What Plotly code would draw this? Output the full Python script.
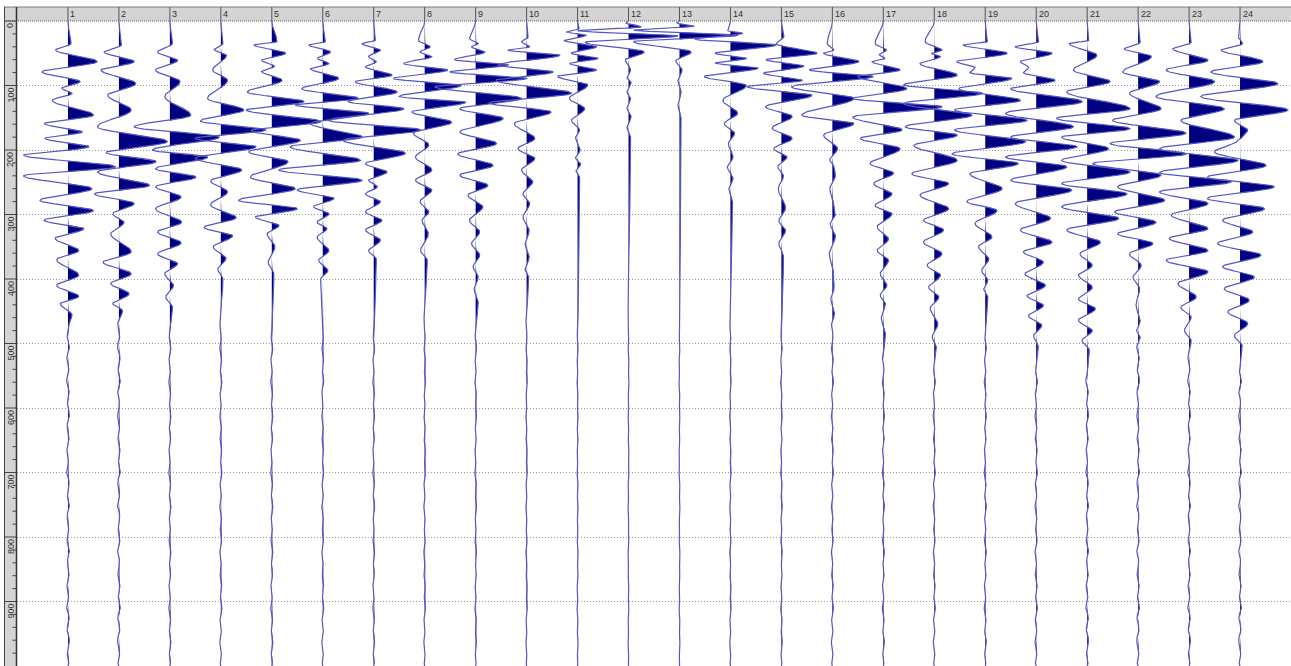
import numpy as np
import plotly.graph_objects as go

# ---------------- data ----------------
trace_numbers = list(range(1, 25))
time_ticks = [0, 100, 200, 300, 400, 500, 600, 700, 800, 900]
minor_ticks = [t for t in range(0, 1000, 20) if t % 100 != 0]

# extrema of each trace: (time ms, amplitude in trace spacings; + = right/filled)
tr01 = [(35, 0.06), (45, -0.24), (63, 0.57), (79, -0.51), (94, 0.24), (104, -0.12), (112, 0.08), (123, -0.31),
        (146, 0.5), (159, -0.46), (172, 0.28), (182, -0.45), (195, 0.41), (208, -0.87), (226, 0.93), (240, -0.87),
        (260, 0.47), (278, -0.55), (294, 0.5), (309, -0.47), (322, 0.31), (337, -0.25), (356, 0.21), (370, -0.22),
        (394, 0.21), (410, -0.22), (427, 0.21), (438, -0.15), (456, 0.08)]
tr02 = [(37, 0.05), (48, -0.29), (63, 0.3), (76, -0.35), (97, 0.33), (115, -0.22), (138, 0.24), (164, -0.42),
        (187, 0.95), (204, -0.25), (218, 0.73), (234, -0.42), (255, 0.6), (268, -0.48), (283, 0.3), (299, -0.12),
        (312, 0.1), (330, -0.16), (358, 0.24), (374, -0.31), (392, 0.24), (407, -0.16), (423, 0.2), (438, -0.12),
        (449, 0.07)]
tr03 = [(35, 0.05), (48, -0.24), (61, 0.15), (76, -0.28), (94, 0.2), (117, -0.1), (146, 0.41), (164, -0.7),
        (180, 0.97), (200, -0.34), (211, 0.74), (229, -0.28), (242, 0.51), (257, -0.28), (273, 0.22), (291, -0.28),
        (312, 0.23), (327, -0.24), (344, 0.22), (361, -0.24), (376, 0.15), (392, -0.1), (410, 0.07), (428, -0.08),
        (444, 0.05)]
tr04 = [(35, 0.04), (44, -0.13), (53, 0.11), (76, -0.16), (92, 0.13), (120, -0.26), (138, 0.45), (155, -0.4),
        (169, 0.88), (182, -0.5), (195, 0.69), (213, -0.5), (231, 0.41), (248, -0.2), (265, 0.13), (285, -0.2),
        (305, 0.3), (320, -0.33), (333, 0.23), (350, -0.15), (368, 0.1), (385, -0.06), (400, 0.04)]
tr05 = [(32, 0.1), (37, -0.35), (50, 0.27), (61, -0.2), (70, 0.05), (78, -0.2), (92, 0.2), (110, -0.48),
        (125, 0.63), (138, -0.5), (156, 0.96), (170, -0.4), (185, 0.56), (203, -0.45), (218, 0.32), (242, -0.42),
        (260, 0.46), (278, -0.65), (291, 0.5), (304, -0.32), (317, 0.14), (330, -0.09), (350, 0.06), (374, -0.07),
        (392, 0.04)]
tr06 = [(32, 0.05), (37, -0.27), (48, 0.15), (58, -0.1), (66, 0.12), (74, -0.24), (89, 0.31), (105, -0.41),
        (120, 0.7), (130, -0.54), (143, 0.9), (159, -0.24), (180, 0.77), (195, -0.64), (216, 0.74), (231, -0.86),
        (247, 0.77), (262, -0.5), (275, 0.22), (288, -0.18), (299, 0.12), (312, -0.11), (322, 0.08), (335, -0.11),
        (356, 0.12), (371, -0.08), (387, 0.1), (400, -0.04)]
tr07 = [(30, 0.03), (35, -0.23), (45, 0.13), (55, -0.1), (63, 0.05), (71, -0.16), (84, 0.36), (94, -0.36),
        (110, 0.46), (125, -0.5), (136, 0.59), (154, -0.88), (169, 0.92), (185, -0.6), (205, 0.62), (221, -0.16),
        (234, 0.26), (247, -0.1), (257, 0.07), (268, -0.16), (280, 0.13), (296, -0.16), (309, 0.16), (324, -0.16),
        (340, 0.13), (356, -0.1), (369, 0.05)]
tr08 = [(30, -0.12), (40, 0.11), (48, -0.09), (55, 0.14), (66, -0.41), (76, 0.45), (89, -0.61), (100, 0.71),
        (117, -0.5), (126, 0.8), (141, -0.25), (157, 0.53), (174, -0.22), (192, 0.08), (211, -0.18), (231, 0.14),
        (247, -0.18), (262, 0.14), (280, -0.09), (296, 0.08), (309, -0.05), (330, 0.07), (356, -0.08), (371, 0.05)]
tr09 = [(27, -0.12), (35, 0.05), (40, -0.08), (48, 0.18), (60, -0.41), (68, 0.64), (79, -0.5), (89, 1.0),
        (102, -0.8), (120, 0.9), (136, -0.31), (151, 0.54), (172, -0.31), (190, 0.41), (206, -0.35), (224, 0.34),
        (239, -0.31), (255, 0.24), (270, -0.15), (288, 0.14), (309, -0.12), (327, 0.08), (345, -0.08), (363, 0.08),
        (381, -0.05), (397, 0.05), (415, -0.03), (436, 0.05)]
tr10 = [(25, 0.03), (32, -0.1), (40, 0.06), (45, -0.37), (53, 0.65), (68, -0.56), (79, 0.52), (92, -0.6),
        (112, 0.88), (127, -0.73), (141, 0.48), (159, -0.24), (182, 0.16), (198, -0.17), (213, 0.16), (231, -0.1),
        (249, 0.12), (268, -0.07), (283, 0.06), (304, -0.07), (325, 0.05), (345, -0.03), (366, 0.05), (385, -0.03),
        (397, 0.04)]
tr11 = [(12, 0.03), (17, -0.22), (22, 0.17), (30, -0.26), (40, 0.37), (50, -0.12), (58, 0.4), (66, -0.15),
        (76, 0.37), (86, -0.39), (99, 0.2), (120, -0.16), (136, 0.14), (154, -0.12), (169, 0.04), (180, -0.04),
        (200, 0.05), (212, -0.04), (222, 0.06), (232, -0.03), (242, 0.04)]
tr12 = [(3, -0.05), (9, 0.25), (15, -1.0), (23, 0.97), (33, -0.85), (48, 0.31), (60, -0.06), (76, 0.04),
        (88, -0.03), (95, 0.05), (110, -0.03), (120, 0.04), (135, -0.03), (148, 0.05), (165, -0.03), (180, 0.04)]
tr13 = [(3, -0.05), (8, 0.29), (14, -0.9), (22, 1.15), (32, -0.9), (48, 0.23), (62, -0.07), (76, 0.05),
        (92, -0.03), (110, 0.03), (130, -0.03), (150, 0.03)]
tr14 = [(15, -0.05), (19, 0.24), (28, -0.7), (37, 0.9), (50, -0.3), (58, 0.31), (65, -0.3), (73, 0.54),
        (86, -0.51), (100, 0.31), (123, -0.15), (143, 0.14), (159, -0.12), (174, 0.08), (190, -0.04), (211, 0.05),
        (226, -0.06), (244, 0.05), (260, -0.03), (280, 0.04)]
tr15 = [(24, 0.05), (35, -0.1), (50, 0.7), (60, -0.3), (70, 0.44), (81, -0.35), (92, 0.41), (102, -0.67),
        (115, 0.6), (133, -0.31), (148, 0.21), (166, -0.18), (182, 0.21), (198, -0.15), (211, 0.11), (226, -0.07),
        (240, 0.04), (260, -0.06), (290, 0.08), (310, -0.05), (325, 0.08), (345, -0.05), (365, 0.04)]
tr16 = [(35, -0.1), (45, 0.03), (50, -0.17), (63, 0.52), (76, -0.45), (86, 0.8), (102, -0.8), (120, 0.42),
        (146, -0.6), (159, 0.42), (177, -0.17), (198, 0.1), (215, -0.05), (225, 0.03), (239, 0.06), (260, -0.05),
        (280, 0.02), (299, 0.06), (315, -0.04), (333, 0.06), (360, -0.06), (390, 0.02), (412, 0.04), (430, -0.03),
        (454, 0.04)]
tr17 = [(35, -0.16), (45, 0.06), (52, -0.08), (58, 0.03), (63, -0.22), (76, 0.33), (86, -0.5), (105, 0.46),
        (120, -0.6), (133, 1.15), (149, -0.6), (169, 0.37), (182, -0.45), (198, 0.33), (221, -0.26), (236, 0.2),
        (252, -0.19), (268, 0.17), (286, -0.16), (299, 0.17), (319, -0.12), (338, 0.1), (356, -0.12), (371, 0.1),
        (392, -0.06), (410, 0.07), (425, -0.06), (438, 0.04), (460, -0.04), (485, 0.04)]
tr18 = [(32, -0.18), (45, 0.15), (50, -0.05), (55, 0.12), (66, -0.28), (84, 0.45), (99, -0.6), (112, 0.94),
        (128, -0.6), (146, 0.74), (164, -0.57), (177, 0.45), (193, -0.4), (216, 0.45), (237, -0.44), (252, 0.28),
        (270, -0.28), (291, 0.28), (309, -0.21), (324, 0.18), (343, -0.21), (361, 0.15), (379, -0.14), (394, 0.12),
        (413, -0.11), (428, 0.09), (445, -0.08), (470, 0.07), (490, -0.04), (505, 0.04)]
tr19 = [(32, 0.04), (37, -0.43), (50, 0.43), (63, -0.56), (72, -0.2), (80, -0.3), (89, 0.52), (105, -0.52),
        (123, 0.69), (138, -0.6), (154, 0.82), (169, -0.6), (187, 0.79), (206, -0.65), (221, 0.65), (237, -0.3),
        (260, 0.33), (280, -0.36), (294, 0.23), (314, -0.2), (335, 0.13), (350, -0.13), (369, 0.07), (387, -0.07),
        (402, 0.05), (415, -0.03), (428, 0.05)]
tr20 = [(32, 0.05), (40, -0.41), (50, 0.31), (63, -0.31), (72, -0.15), (80, -0.25), (92, 0.37), (105, -0.5),
        (125, 0.9), (143, -0.6), (164, 0.73), (180, -0.5), (195, 0.8), (211, -0.6), (226, 0.6), (247, -0.5),
        (262, 0.7), (283, -0.41), (306, 0.28), (324, -0.31), (343, 0.31), (358, -0.25), (374, 0.14), (392, -0.22),
        (410, 0.18), (426, -0.18), (441, 0.14), (457, -0.15), (472, 0.11), (488, -0.05), (505, 0.04)]
tr21 = [(30, 0.03), (35, -0.35), (53, 0.19), (76, -0.27), (94, 0.45), (110, -0.4), (136, 0.84), (151, -0.6),
        (167, 0.84), (180, -0.5), (198, 0.42), (216, -0.5), (234, 0.84), (252, -0.5), (268, 0.78), (288, -0.5),
        (306, 0.62), (324, -0.4), (343, 0.26), (361, -0.14), (379, 0.1), (394, -0.17), (413, 0.1), (431, -0.17),
        (446, 0.16), (464, -0.17), (480, 0.1), (495, -0.1), (510, 0.04)]
tr22 = [(33, 0.04), (43, -0.27), (55, 0.26), (79, -0.3), (94, 0.42), (112, -0.17), (136, 0.45), (154, -0.5),
        (174, 0.94), (190, -0.55), (206, 0.94), (221, -0.89), (239, 0.45), (257, -0.4), (278, 0.52), (296, -0.46),
        (312, 0.35), (330, -0.4), (345, 0.29), (361, -0.17), (379, 0.06), (397, -0.1), (415, 0.03), (440, -0.04),
        (465, 0.04), (480, -0.03), (490, 0.04)]
tr23 = [(33, 0.04), (43, -0.32), (61, 0.37), (76, -0.45), (94, 0.5), (117, -0.65), (136, 0.69), (154, -0.16),
        (180, 0.89), (198, -0.58), (216, 0.96), (235, -0.58), (249, 0.83), (265, -0.58), (283, 0.37), (301, -0.35),
        (322, 0.37), (337, -0.39), (356, 0.37), (371, -0.45), (389, 0.37), (407, -0.22), (428, 0.14), (444, -0.16),
        (459, 0.04), (480, -0.09), (496, 0.04)]
tr24 = [(25, -0.03), (35, 0.05), (45, -0.37), (63, 0.45), (79, -0.57), (97, 0.74), (117, -0.77), (138, 0.94),
        (154, -0.11), (169, 0.15), (180, 0.05), (185, -0.05), (203, -0.5), (224, 0.51), (242, -0.64), (257, 0.67),
        (275, -0.64), (291, 0.48), (309, -0.34), (327, 0.25), (345, -0.44), (363, 0.41), (381, -0.34), (397, 0.28),
        (415, -0.31), (433, 0.18), (451, -0.24), (469, 0.15), (488, -0.11), (503, 0.04)]

# small late-time jitter common to all traces
tail_t = [470, 488, 505, 522, 540, 557, 575, 592, 610, 628, 645, 662, 680, 698, 715, 733, 750, 768, 785, 803,
          820, 838, 856, 873, 890, 908, 925, 943, 960, 978, 995]
tail_a = [0.04, -0.03, 0.05, -0.04, 0.03, -0.05, 0.04, -0.02, 0.05, -0.03, 0.04, -0.04, 0.02, -0.05, 0.04, -0.03,
          0.05, -0.03, 0.03, -0.04, 0.05, -0.02, 0.04, -0.04, 0.03, -0.05, 0.04, -0.03, 0.05, -0.03, 0.04]
tail_gain = [0.55, 0.55, 0.45, 0.45, 0.45, 0.4, 0.4, 0.35, 0.35, 0.3, 0.25, 0.2, 0.2, 0.3, 0.35, 0.45, 0.45,
             0.45, 0.45, 0.5, 0.55, 0.55, 0.55, 0.55]

all_traces = [tr01, tr02, tr03, tr04, tr05, tr06, tr07, tr08, tr09, tr10, tr11, tr12,
              tr13, tr14, tr15, tr16, tr17, tr18, tr19, tr20, tr21, tr22, tr23, tr24]

# ---------------- rendering helpers ----------------
T_MAX = 1000.0
t = np.arange(0.0, T_MAX + 0.5, 0.5)


def wiggle(events, gain, sign):
    pts = [(0.0, 0.0)] + [(float(a), float(b)) for a, b in events]
    last = pts[-1][0]
    pts += [(float(tt), aa * gain * sign) for tt, aa in zip(tail_t, tail_a) if tt > last + 12]
    pts += [(T_MAX, 0.0)]
    ts = np.array([p[0] for p in pts])
    av = np.array([p[1] for p in pts])
    idx = np.clip(np.searchsorted(ts, t, side="right") - 1, 0, len(ts) - 2)
    t0, t1 = ts[idx], ts[idx + 1]
    a0, a1 = av[idx], av[idx + 1]
    s = np.clip((t - t0) / (t1 - t0), 0, 1)
    return a0 + (a1 - a0) * (1 - np.cos(np.pi * s)) / 2


FILL = "#000080"
LINE = "#5656c6"

fig = go.Figure()
for k, (num, ev) in enumerate(zip(trace_numbers, all_traces)):
    a = wiggle(ev, tail_gain[k], 1 if k % 2 == 0 else -1)
    pos = num
    xf = pos + np.clip(a, 0, None)
    fig.add_trace(go.Scatter(
        x=np.concatenate([[pos], xf, [pos]]), y=np.concatenate([[0], t, [T_MAX]]),
        mode="lines", fill="toself", fillcolor=FILL, line=dict(width=0, color=FILL),
        hoverinfo="skip", showlegend=False))
    fig.add_trace(go.Scatter(
        x=pos + a, y=t, mode="lines", line=dict(color=LINE, width=1.2),
        hoverinfo="skip", showlegend=False))

# ---------------- layout ----------------
W, H = 1291, 666
L, TOP = 17, 21
PW, PH = W - L, H - TOP


def xp(px):
    return (px - L) / PW


def yp(py):
    return (H - py) / PH


fig.update_layout(
    width=W, height=H, margin=dict(l=L, r=0, t=TOP, b=0, pad=0),
    paper_bgcolor="white", plot_bgcolor="white", showlegend=False,
    xaxis=dict(range=[0, 25], showgrid=False, zeroline=False, showticklabels=False, ticks="",
               showline=False, fixedrange=True),
    yaxis=dict(range=[T_MAX, 0], tickvals=time_ticks, showgrid=True, gridcolor="#9a9a9a", griddash="1px,2px",
               gridwidth=1, zeroline=False, showticklabels=False, ticks="", showline=False, fixedrange=True),
)

shapes = []
RULER = "#d4d4d4"
# top ruler
shapes.append(dict(type="rect", xref="paper", yref="paper", x0=xp(4), x1=1.0, y0=1.0, y1=yp(7),
                   fillcolor=RULER, line=dict(width=0), layer="above"))
# left ruler
shapes.append(dict(type="rect", xref="paper", yref="paper", x0=xp(4), x1=0.0, y0=0.0, y1=1.0,
                   fillcolor=RULER, line=dict(width=0), layer="above"))
# borders
shapes.append(dict(type="line", xref="paper", yref="paper", x0=xp(4), x1=1.0, y0=yp(7), y1=yp(7),
                   line=dict(color="#7a7a7a", width=1), layer="above"))
shapes.append(dict(type="line", xref="paper", yref="paper", x0=xp(4), x1=1.0, y0=1.0, y1=1.0,
                   line=dict(color="#666666", width=1, dash="1px,1px"), layer="above"))
shapes.append(dict(type="line", xref="paper", yref="paper", x0=xp(4.5), x1=xp(4.5), y0=0.0, y1=yp(7),
                   line=dict(color="#444444", width=1), layer="above"))
shapes.append(dict(type="line", xref="paper", yref="paper", x0=xp(16.5), x1=xp(16.5), y0=0.0, y1=yp(7),
                   line=dict(color="#333333", width=1.5), layer="above"))
# top ruler ticks
for n in trace_numbers:
    shapes.append(dict(type="line", xref="paper", yref="paper", x0=n / 25, x1=n / 25, y0=1.0, y1=yp(7),
                       line=dict(color="#555555", width=1), layer="above"))
# left ruler ticks
for tv in time_ticks:
    yy = 1 - tv / T_MAX
    shapes.append(dict(type="line", xref="paper", yref="paper", x0=xp(4.5), x1=xp(16.5), y0=yy, y1=yy,
                       line=dict(color="#444444", width=1), layer="above"))
for tv in minor_ticks:
    yy = 1 - tv / T_MAX
    shapes.append(dict(type="line", xref="paper", yref="paper", x0=xp(12.5), x1=xp(16.5), y0=yy, y1=yy,
                       line=dict(color="#444444", width=1), layer="above"))

annotations = []
for n in trace_numbers:
    annotations.append(dict(xref="paper", yref="paper", x=n / 25 + 1.5 / PW, y=yp(8), text=str(n),
                            xanchor="left", yanchor="top", showarrow=False, borderpad=0,
                            font=dict(family="Arial", size=9, color="#333333")))
for tv in time_ticks:
    annotations.append(dict(xref="paper", yref="paper", x=xp(10.5), y=1 - tv / T_MAX - 1 / PH, text=str(tv),
                            textangle=-90, xanchor="center", yanchor="top", showarrow=False, borderpad=0,
                            font=dict(family="Arial", size=9, color="#333333")))

fig.update_layout(shapes=shapes, annotations=annotations)
fig.write_html("out.html")
